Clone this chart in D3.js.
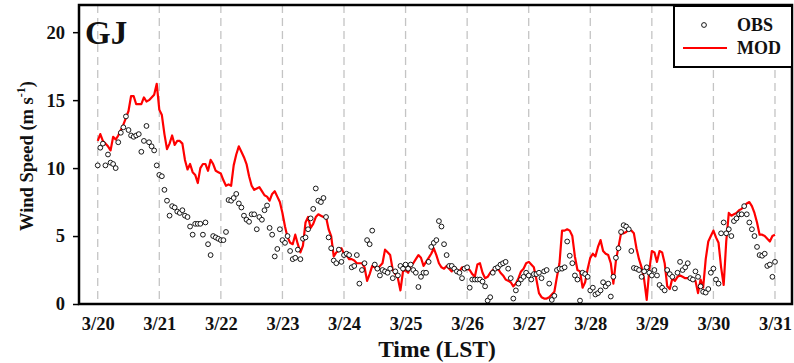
<!DOCTYPE html>
<html>
<head>
<meta charset="utf-8">
<script src="https://cdn.jsdelivr.net/npm/d3@7"></script>
<style>
  body { margin: 0; background: #fff; }
  svg { display: block; font-family: "Liberation Serif", "Times New Roman", serif; font-weight: bold; }
</style>
</head>
<body>
<div id="chart"></div>
<script>
// hourly wind speed from 3/20 00 LST
const startDate = new Date(2021, 2, 20);
const stationName = 'GJ';
const seriesNames = ['OBS', 'MOD'];
const yTicks = [0, 5, 10, 15, 20];

const obsSpeed = [
  // 3/20
  10.2, 11.5, 11.8, 10.2, 11.0, 10.4, 10.3, 10.0, 11.9, 12.6, 13.0, 13.8, 12.8, 12.4, 12.3, 12.4, 12.5, 11.2, 12.0, 13.1, 11.9, 11.6, 11.3, 10.2,
  // 3/21
  9.5, 9.4, 8.4, 7.6, 6.5, 7.2, 7.1, 6.8, 6.7, 6.9, 6.5, 6.4, 5.7, 5.1, 5.9, 5.9, 5.9, 5.1, 6.0, 4.4, 3.6, 5.0, 4.9, 4.8,
  // 3/22
  4.7, 4.7, 5.3, 7.65, 7.6, 7.8, 8.1, 7.4, 7.1, 6.5, 6.2, 6.05, 6.6, 6.6, 5.5, 6.4, 6.2, 6.9, 7.25, 5.6, 5.1, 3.5, 4.05, 5.5,
  // 3/23
  4.7, 4.5, 5.0, 3.9, 3.3, 3.4, 4.0, 3.3, 4.8, 4.9, 5.5, 6.3, 7.0, 8.5, 7.6, 7.5, 7.8, 6.4, 4.9, 4.1, 3.2, 3.0, 4.0, 3.1,
  // 3/24
  3.6, 3.7, 3.6, 2.7, 2.8, 3.6, 1.5, 2.5, 3.0, 4.7, 4.4, 5.4, 2.9, 2.6, 2.1, 2.5, 2.4, 2.3, 2.6, 1.9, 2.4, 2.1, 2.8, 2.6,
  // 3/25
  2.9, 2.6, 2.9, 2.5, 2.3, 1.25, 2.0, 2.3, 2.3, 3.1, 4.2, 4.5, 4.7, 6.1, 5.7, 4.4, 3.6, 2.8, 2.8, 2.6, 2.4, 2.3, 1.9, 2.6,
  // 3/26
  2.7, 1.2, 1.8, 1.8, 1.8, 1.8, 1.65, 1.3, 0.25, 0.5, 2.3, 2.6, 2.7, 2.9, 3.0, 3.1, 2.6, 1.9, 0.4, 1.0, 1.5, 1.8, 2.0, 2.3,
  // 3/27
  2.1, 1.8, 2.2, 2.2, 2.3, 1.9, 2.4, 2.5, 1.5, 0.3, 0.6, 2.5, 2.6, 2.6, 2.7, 4.6, 3.55, 3.0, 2.1, 1.8, 0.25, 2.3, 2.2, 2.0,
  // 3/28
  1.0, 1.2, 0.7, 0.8, 1.0, 1.6, 1.3, 1.5, 0.55, 2.0, 3.4, 4.1, 5.3, 5.8, 5.7, 5.5, 3.9, 2.65, 2.6, 2.5, 2.0, 2.4, 2.7, 2.3,
  // 3/29
  2.1, 2.5, 2.1, 1.4, 1.2, 1.0, 2.5, 2.2, 2.0, 1.15, 2.3, 3.1, 2.5, 2.7, 3.0, 1.9, 1.8, 2.4, 2.0, 1.3, 0.9, 0.84, 1.1, 2.3,
  // 3/30
  2.6, 1.8, 1.5, 5.2, 6.0, 5.2, 5.5, 5.0, 6.1, 6.3, 6.6, 6.6, 7.2, 6.6, 6.0, 5.5, 5.0, 4.2, 3.6, 3.55, 3.7, 2.8, 2.9, 2.0,
  // 3/31 00
  3.1
];

const modSpeed = [
  // 3/20
  12.0, 12.5, 12.0, 11.8, 11.6, 11.3, 12.3, 12.1, 12.4, 12.8, 13.2, 13.7, 14.2, 15.3, 15.3, 14.7, 14.7, 14.7, 15.2, 14.9, 15.0, 15.2, 15.4, 16.2,
  // 3/21
  14.3, 13.9, 12.5, 11.4, 11.8, 12.4, 11.7, 12.0, 12.0, 11.8, 10.6, 9.9, 10.3, 9.7, 9.5, 8.9, 10.0, 10.3, 10.3, 9.8, 10.6, 10.3, 9.8, 9.7,
  // 3/22
  9.6, 9.1, 8.7, 8.8, 8.7, 10.2, 11.0, 11.6, 11.2, 10.8, 10.3, 9.4, 8.7, 8.4, 8.5, 8.6, 8.3, 8.0, 7.9, 7.6, 8.1, 8.3, 7.9, 7.5,
  // 3/23
  6.7, 5.7, 4.9, 4.5, 4.4, 5.1, 4.4, 3.8, 4.3, 6.0, 6.4, 5.6, 5.9, 6.4, 6.6, 6.5, 6.4, 6.4, 5.5, 5.0, 3.5, 3.8, 3.9, 4.1,
  // 3/24
  3.7, 3.6, 3.3, 3.3, 3.2, 3.0, 3.0, 3.0, 2.7, 1.7, 2.2, 2.8, 2.7, 2.5, 2.8, 3.0, 4.0, 3.8, 3.6, 2.5, 2.2, 1.9, 1.0, 2.4,
  // 3/25
  2.5, 2.3, 2.8, 3.0, 3.3, 3.6, 3.4, 2.8, 3.1, 3.4, 3.7, 4.1, 3.6, 3.0, 2.7, 2.6, 2.8, 2.6, 2.4, 2.7, 2.5, 2.4, 2.7, 2.5,
  // 3/26
  2.6, 2.5, 2.2, 2.0, 2.9, 3.0, 2.3, 1.9, 2.0, 2.3, 2.5, 2.5, 2.6, 2.3, 2.1, 1.8, 1.7, 1.6, 1.3, 1.5, 1.9, 2.4, 2.6, 3.0,
  // 3/27
  3.1, 2.9, 2.7, 1.8, 0.8, 0.5, 0.4, 0.4, 0.5, 0.7, 0.9, 2.0, 3.0, 5.4, 5.4, 5.5, 5.4, 5.0, 3.5, 2.5, 2.4, 1.2, 1.6, 2.6,
  // 3/28
  3.4, 3.7, 3.5, 4.2, 4.7, 3.9, 3.7, 3.6, 3.0, 1.5, 3.2, 4.2, 5.2, 5.2, 5.3, 5.5, 5.4, 5.2, 4.1, 3.3, 2.7, 1.8, 0.3, 2.5,
  // 3/29
  3.9, 3.8, 3.1, 3.9, 3.8, 3.0, 1.3, 1.1, 1.9, 1.7, 2.0, 2.1, 2.0, 1.9, 1.9, 1.8, 1.8, 1.7, 0.8, 1.8, 1.2, 3.3, 4.6, 5.0,
  // 3/30
  5.4, 4.9, 4.5, 2.7, 1.4, 4.6, 6.7, 6.5, 6.6, 6.7, 6.9, 7.0, 7.2, 7.4, 7.5, 7.2, 6.7, 6.0, 5.1, 5.1, 5.0, 4.8, 4.6, 5.0,
  // 3/31 00
  5.1
];

const width = 794, height = 363;
const margin = { top: 5, right: 2, bottom: 59, left: 79 };
const textColor = '#111';
const serif = '"Liberation Serif", "Times New Roman", serif';

const hourTime = i => d3.timeHour.offset(startDate, i);
const endDate = hourTime(modSpeed.length - 1);
const dayTicks = d3.timeDay.range(startDate, d3.timeDay.offset(endDate, 1));

const x = d3.scaleTime()
  .domain([d3.timeMinute.offset(startDate, -438), d3.timeMinute.offset(endDate, 398)])
  .range([margin.left, width - margin.right]);
const y = d3.scaleLinear()
  .domain([0, 22])
  .range([height - margin.bottom, margin.top]);

const svg = d3.select('#chart').append('svg')
  .attr('width', width)
  .attr('height', height);

svg.append('rect').attr('width', width).attr('height', height).attr('fill', '#fff');

// dashed day lines
svg.append('g')
  .selectAll('line')
  .data(dayTicks)
  .join('line')
  .attr('x1', d => x(d)).attr('x2', d => x(d))
  .attr('y1', y.range()[1]).attr('y2', y.range()[0])
  .attr('stroke', '#c4c4c4')
  .attr('stroke-width', 1.3)
  .attr('stroke-dasharray', '8,5');

// model line
const line = d3.line()
  .x((d, i) => x(hourTime(i)))
  .y(d => y(d));

svg.append('path')
  .datum(modSpeed)
  .attr('fill', 'none')
  .attr('stroke', '#ff0000')
  .attr('stroke-width', 2.2)
  .attr('stroke-linejoin', 'round')
  .attr('d', line);

// observations
svg.append('g')
  .selectAll('circle')
  .data(obsSpeed.map((v, i) => ({ t: hourTime(i), v })).filter(d => d.v != null))
  .join('circle')
  .attr('cx', d => x(d.t))
  .attr('cy', d => y(d.v))
  .attr('r', 2.4)
  .attr('fill', '#fff')
  .attr('stroke', '#000')
  .attr('stroke-width', 0.9);

// axes
const yAxis = svg.append('g')
  .attr('transform', `translate(${margin.left},0)`)
  .call(d3.axisLeft(y).tickValues(yTicks).tickSize(6).tickPadding(8));
yAxis.select('.domain').remove();
yAxis.selectAll('line').attr('stroke', '#000').attr('stroke-width', 1.5);
yAxis.selectAll('text')
  .attr('fill', textColor)
  .style('font-size', '18.5px')
  .style('font-family', serif)
  .style('font-weight', 'bold');

const xAxis = svg.append('g')
  .attr('transform', `translate(0,${height - margin.bottom})`)
  .call(d3.axisBottom(x).tickValues(dayTicks).tickFormat(d3.timeFormat('%-m/%-d')).tickSize(0).tickPadding(13));
xAxis.select('.domain').remove();
xAxis.selectAll('text')
  .attr('fill', textColor)
  .style('font-size', '18.5px')
  .style('font-family', serif)
  .style('font-weight', 'bold');

// frame
svg.append('rect')
  .attr('x', margin.left)
  .attr('y', margin.top)
  .attr('width', width - margin.left - margin.right)
  .attr('height', height - margin.top - margin.bottom)
  .attr('fill', 'none')
  .attr('stroke', '#000')
  .attr('stroke-width', 2.5);

// axis titles
svg.append('text')
  .attr('x', 437)
  .attr('y', 357)
  .attr('text-anchor', 'middle')
  .attr('fill', textColor)
  .style('font-size', '23.5px')
  .text('Time (LST)');

const yTitle = svg.append('text')
  .attr('transform', `translate(33,${156}) rotate(-90)`)
  .attr('text-anchor', 'middle')
  .attr('fill', textColor)
  .style('font-size', '18.5px');
yTitle.append('tspan').text('Wind Speed (m s');
yTitle.append('tspan').attr('dy', -8).style('font-size', '12px').text('-1');
yTitle.append('tspan').attr('dy', 8).text(')');

// station name
svg.append('text')
  .attr('x', 85)
  .attr('y', 44)
  .attr('fill', textColor)
  .style('font-size', '33px')
  .text(stationName);

// legend
const legend = svg.append('g').attr('transform', 'translate(674,6)');
legend.append('rect')
  .attr('width', 118).attr('height', 61)
  .attr('fill', '#fff').attr('stroke', '#000').attr('stroke-width', 2);
legend.append('circle')
  .attr('cx', 30).attr('cy', 19).attr('r', 2.4)
  .attr('fill', '#fff').attr('stroke', '#000').attr('stroke-width', 0.9);
legend.append('line')
  .attr('x1', 9).attr('x2', 53).attr('y1', 42).attr('y2', 42)
  .attr('stroke', '#ff0000').attr('stroke-width', 2.2);
legend.selectAll('text.lbl')
  .data(seriesNames)
  .join('text')
  .attr('class', 'lbl')
  .attr('x', 63)
  .attr('y', (d, i) => 25 + i * 23)
  .attr('fill', textColor)
  .style('font-size', '18px')
  .text(d => d);
</script>
</body>
</html>
